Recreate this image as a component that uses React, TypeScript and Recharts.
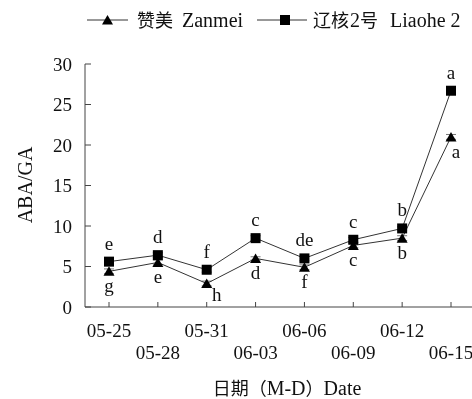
import { LineChart, Line, XAxis, YAxis, ErrorBar, LabelList } from "recharts";

const dates = ["05-25", "05-28", "05-31", "06-03", "06-06", "06-09", "06-12", "06-15"];
const zanmei = [4.4, 5.5, 2.9, 6.0, 4.9, 7.6, 8.5, 21.0];
const zanmeiErr = [0.3, 0.3, 0.3, 0.2, 0.3, 0.3, 0.3, 0.3];
const zanmeiLetters = ["g", "e", "h", "d", "f", "c", "b", "a"];
const liaohe = [5.6, 6.4, 4.6, 8.5, 6.0, 8.3, 9.7, 26.7];
const liaoheErr = [0.3, 0.3, 0.3, 0.3, 0.3, 0.3, 0.2, 0.4];
const liaoheLetters = ["e", "d", "f", "c", "de", "c", "b", "a"];
const yTicks = [0, 5, 10, 15, 20, 25, 30];

const SERIF = "'Liberation Serif', 'Times New Roman', serif";
const CJK = "'Noto Sans CJK SC', sans-serif";
const INK = "#111";

const rows = dates.map((d, i) => ({
  date: d,
  zanmei: zanmei[i],
  zanmeiErr: zanmeiErr[i],
  liaohe: liaohe[i],
  liaoheErr: liaoheErr[i],
}));

const Triangle = ({ cx, cy }: any) => (
  <path d={`M${cx},${cy - 5} L${cx + 5.5},${cy + 4.5} L${cx - 5.5},${cy + 4.5} Z`} fill="#000" />
);
const Square = ({ cx, cy }: any) => <rect x={cx - 5} y={cy - 5} width={10} height={10} fill="#000" />;

const XTick = ({ x, y, payload }: any) => {
  const i = dates.indexOf(payload.value);
  return (
    <text x={x} y={y + (i % 2 ? 52 : 30)} textAnchor="middle" fontSize={19} fontFamily={SERIF} fill={INK}>
      {payload.value}
    </text>
  );
};

// significance letters: squares get them above, triangles below
const letterLabel = (letters: string[], below: boolean) => (props: any) => {
  const { x, y, index } = props;
  let dx = 0;
  let dy = below ? 21 : -12;
  if (below && index === 2) {
    dx = 10;
    dy = 17;
  }
  if (below && index === 7) dx = 5;
  return (
    <text key={index} x={x + dx} y={y + dy} textAnchor="middle" fontSize={19} fontFamily={SERIF} fill={INK}>
      {letters[index]}
    </text>
  );
};

const YTitle = () => (
  <text x={17} y={185} transform="rotate(-90 17 185)" textAnchor="middle" dominantBaseline="central" fontSize={20} fontFamily={SERIF} fill={INK}>
    ABA/GA
  </text>
);

const XTitle = () => (
  <text x={279} y={395} textAnchor="middle" fontSize={20} fontFamily={SERIF} fill={INK}>
    <tspan fontFamily={CJK} fontSize={18}>日期（</tspan>
    <tspan>M-D</tspan>
    <tspan fontFamily={CJK} fontSize={18}>）</tspan>
    <tspan>Date</tspan>
  </text>
);

const LegendBar = () => {
  const cjk = { fontSize: 18, fontFamily: CJK, fill: INK };
  const latin = { fontSize: 20, fontFamily: SERIF, fill: INK };
  return (
    <svg width={464} height={52} style={{ position: "absolute", left: 0, top: 0 }}>
      <line x1={79} x2={120} y1={20} y2={20} stroke="#333" />
      <Triangle cx={99.5} cy={20} />
      <text x={129} y={27} {...cjk}>赞美</text>
      <text x={174} y={27} {...latin}>Zanmei</text>
      <line x1={249} x2={299} y1={20} y2={20} stroke="#333" />
      <Square cx={277} cy={20} />
      <text x={305} y={27} {...cjk}>辽核</text>
      <text x={342} y={27} {...latin}>2</text>
      <text x={352} y={27} {...cjk}>号</text>
      <text x={382} y={27} {...latin}>Liaohe 2</text>
    </svg>
  );
};

export default function App() {
  // fixed so the slightly-too-wide chart never makes the page scroll
  return (
    <div style={{ position: "fixed", left: 8, top: 0, width: 464, height: 399, overflow: "hidden" }}>
      <LegendBar />
      <LineChart width={470} height={399} data={rows} margin={{ top: 64, right: 3, bottom: 0, left: 0 }}>
        <XAxis
          dataKey="date"
          height={92}
          interval={0}
          padding={{ left: 24, right: 24 }}
          tickSize={-5}
          tickMargin={5}
          tick={<XTick />}
          stroke="#444"
          label={{ content: <XTitle /> }}
        />
        <YAxis
          width={77}
          domain={[0, 30]}
          ticks={yTicks}
          tickSize={-6}
          tickMargin={19}
          stroke="#444"
          tick={{ fontSize: 19, fontFamily: SERIF, fill: INK }}
          label={{ content: <YTitle /> }}
        />
        <Line
          dataKey="zanmei"
          type="linear"
          stroke="#333"
          strokeWidth={1}
          isAnimationActive={false}
          dot={(p: any) => <Triangle key={p.index} cx={p.cx} cy={p.cy} />}
          activeDot={false}
        >
          <ErrorBar dataKey="zanmeiErr" width={5} stroke="#777" strokeWidth={1} />
          <LabelList dataKey="zanmei" content={letterLabel(zanmeiLetters, true)} />
        </Line>
        <Line
          dataKey="liaohe"
          type="linear"
          stroke="#333"
          strokeWidth={1}
          isAnimationActive={false}
          dot={(p: any) => <Square key={p.index} cx={p.cx} cy={p.cy} />}
          activeDot={false}
        >
          <ErrorBar dataKey="liaoheErr" width={5} stroke="#777" strokeWidth={1} />
          <LabelList dataKey="liaohe" content={letterLabel(liaoheLetters, false)} />
        </Line>
      </LineChart>
    </div>
  );
}
